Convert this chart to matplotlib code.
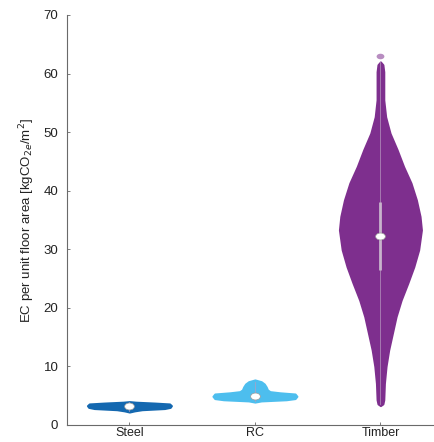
import matplotlib
matplotlib.use('Agg')
import matplotlib.pyplot as plt
from matplotlib.markers import MarkerStyle
from matplotlib.transforms import Affine2D

plt.rcParams['font.family'] = ['Liberation Sans', 'DejaVu Sans']

categories = ['Steel', 'RC', 'Timber']
colors = ['#1468B0', '#4DBEEE', '#7E2F8E']

# violin outlines: EC value and half-width (in category units)
steel_ec = [2.2, 2.4, 2.6, 2.8, 3.0, 3.3, 3.6, 3.75, 3.9, 4.0]
steel_hw = [0.0, 0.04, 0.10, 0.28, 0.325, 0.335, 0.32, 0.20, 0.05, 0.0]

rc_ec = [3.9, 4.1, 4.3, 4.5, 4.9, 5.3, 5.5, 5.7, 6.0, 6.5, 7.0, 7.4, 7.7]
rc_hw = [0.0, 0.05, 0.25, 0.32, 0.335, 0.32, 0.20, 0.12, 0.10, 0.09, 0.075, 0.05, 0.0]

timber_ec = [3.3, 3.6, 4.3, 7.1, 10.0, 12.8, 15.7, 18.5, 21.3, 24.2, 27.0, 29.9,
             33.3, 35.6, 38.4, 41.3, 44.1, 47.0, 49.8, 52.6, 55.5, 58.3, 60.3, 61.5, 62.0]
timber_hw = [0.0, 0.02, 0.027, 0.032, 0.045, 0.066, 0.096, 0.125, 0.165, 0.218, 0.266, 0.305,
             0.327, 0.316, 0.287, 0.244, 0.185, 0.133, 0.077, 0.042, 0.027, 0.027, 0.027, 0.02, 0.0]

medians = [3.3, 4.95, 32.3]
q1 = [3.1, 4.7, 26.5]
q3 = [3.5, 5.2, 38.1]
whisk_lo = [2.4, 4.1, 3.6]
whisk_hi = [3.9, 7.4, 62.0]
outliers = [None, None, 63.0]

violins = [(steel_ec, steel_hw), (rc_ec, rc_hw), (timber_ec, timber_hw)]

fig = plt.figure(figsize=(4.35, 4.42), dpi=100)
ax = fig.add_axes([0.1533, 0.0385, 0.8655, 0.9276])

dot = MarkerStyle('o', transform=Affine2D().scale(1.4, 1.0))

for i, (ec, hw) in enumerate(violins):
    pos = i + 1
    c = colors[i]
    left = [pos - w for w in hw]
    right = [pos + w for w in hw]
    ax.fill_betweenx(ec, left, right, facecolor=c, edgecolor=c, linewidth=1.4, zorder=2)
    # whisker and interquartile box
    ax.plot([pos, pos], [whisk_lo[i], whisk_hi[i]], color='#b79cc0', lw=0.6, alpha=0.8, zorder=3)
    ax.plot([pos, pos], [q1[i], q3[i]], color='#c8b4cc', lw=2.0, solid_capstyle='butt', zorder=3)
    if outliers[i] is not None:
        ax.plot(pos, outliers[i], marker=dot, ms=4, color=c, alpha=0.55, mec='none', zorder=3)
    ax.plot(pos, medians[i], marker=dot, ms=5, mfc='white', mec='#9a9a9a', mew=0.5, zorder=4)

ax.set_xlim(0.5, 3.5)
ax.set_ylim(0, 70)
ax.set_xticks([1, 2, 3])
ax.set_xticklabels(categories)
ax.set_yticks(range(0, 71, 10))
ax.tick_params(direction='in', length=2.5, width=0.6, color='#666666',
               labelcolor='#222222')
ax.tick_params(axis='y', pad=6, labelsize=9.5)
ax.tick_params(axis='x', pad=1.5, labelsize=9)
ax.set_ylabel('EC per unit floor area [kgCO$_{2e}$/m$^2$]', fontsize=9.5,
              color='#222222', labelpad=5)

for side in ['top', 'right']:
    ax.spines[side].set_visible(False)
for side in ['left', 'bottom']:
    ax.spines[side].set_color('#6a6a6a')
    ax.spines[side].set_linewidth(0.8)

fig.savefig('out.png', dpi=100)
